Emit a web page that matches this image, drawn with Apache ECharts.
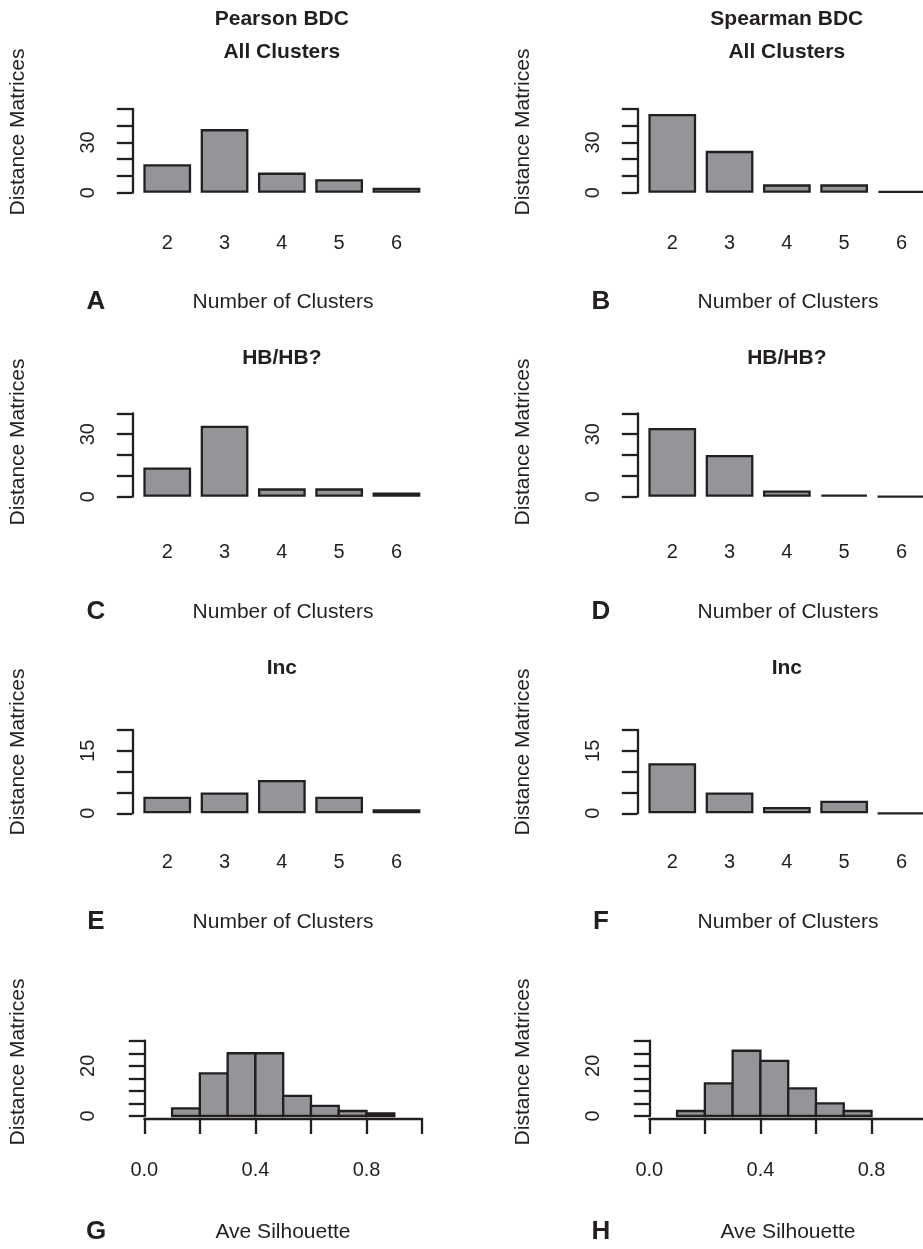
<!DOCTYPE html>
<html>
<head>
<meta charset="utf-8">
<script src="https://cdn.jsdelivr.net/npm/echarts@6/dist/echarts.min.js"></script>
<style>
html,body{margin:0;padding:0;background:#fff;}
#chart{width:923px;height:1249px;}
</style>
</head>
<body>
<div id="chart"></div>
<script>
// ---------------- data ----------------
const clusterCats = ['2', '3', '4', '5', '6'];
const pearsonAll = [17, 38, 12, 8, 3];
const spearmanAll = [47, 25, 5, 5, 1];
const pearsonHB = [14, 34, 4, 4, 2];
const spearmanHB = [33, 20, 3, 1, 0];
const pearsonInc = [4, 5, 8, 4, 1];
const spearmanInc = [12, 5, 1.5, 3, 0];
const silEdgesPearson = [0.1, 0.2, 0.3, 0.4, 0.5, 0.6, 0.7, 0.8, 0.9];
const silCountsPearson = [3, 17, 25, 25, 8, 4, 2, 1];
const silEdgesSpearman = [0.1, 0.2, 0.3, 0.4, 0.5, 0.6, 0.7, 0.8];
const silCountsSpearman = [2, 13, 26, 22, 11, 5, 2];
const panelTitles = [['Pearson BDC\nAll Clusters', 'Spearman BDC\nAll Clusters'], ['HB/HB?', 'HB/HB?'], ['Inc', 'Inc'], ['', '']];
const panelLetters = [['A', 'B'], ['C', 'D'], ['E', 'F'], ['G', 'H']];
const yTickLabels = [[0, 30], [0, 30], [0, 15], [0, 20]];
const silTickLabels = [0, 0.4, 0.8];

// ---------------- styling / layout ----------------
const FONT = 'Liberation Sans, Arial, Helvetica, sans-serif';
const INK = '#231f20';
const FILL = '#939598';
const LW = 2.3;
const COL_DX = [0, 505];
const rows = [
  {top: 109, bottom: 192.7, max: 50, interval: 10, tickY: 243, titleY: [19, 52], nameY: 132, letterY: 302},
  {top: 413.3, bottom: 496.7, max: 40, interval: 10, tickY: 552, titleY: [358], nameY: 442, letterY: 612},
  {top: 730, bottom: 813.3, max: 20, interval: 5, tickY: 862, titleY: [668], nameY: 752, letterY: 922},
  {top: 1040.7, bottom: 1116, max: 30, interval: 5, tickY: 1170, titleY: [], nameY: 1062, letterY: 1232}
];
const barSeriesData = [[pearsonAll, spearmanAll], [pearsonHB, spearmanHB], [pearsonInc, spearmanInc]];

const grids = [], xAxes = [], yAxes = [], series = [], graphics = [];

function yAxisFor(r, shown, offset) {
  return {
    type: 'value', gridIndex: grids.length - 1, min: 0, max: r.max, interval: r.interval,
    offset: offset,
    axisLine: {show: true, lineStyle: {color: INK, width: LW}},
    axisTick: {show: true, length: 15.5, lineStyle: {color: INK, width: LW}},
    splitLine: {show: false},
    axisLabel: {
      rotate: 90, margin: 44, verticalAlign: 'middle', align: 'center',
      color: INK, fontSize: 20, fontFamily: FONT,
      formatter: v => shown.indexOf(v) >= 0 ? String(v) : ''
    }
  };
}

for (let ri = 0; ri < 4; ri++) {
  const r = rows[ri];
  for (let ci = 0; ci < 2; ci++) {
    const dx = COL_DX[ci];
    if (ri < 3) {
      grids.push({left: 138.6 + dx, top: r.top, width: 286.5, height: r.bottom - r.top, containLabel: false, outerBoundsMode: 'none'});
      const gi = grids.length - 1;
      xAxes.push({
        type: 'category', gridIndex: gi, data: clusterCats, boundaryGap: true,
        axisLine: {show: false}, axisTick: {show: false}, splitLine: {show: false},
        axisLabel: {margin: r.tickY - r.bottom, verticalAlign: 'middle', color: INK, fontSize: 20, fontFamily: FONT}
      });
      yAxes.push(yAxisFor(r, yTickLabels[ri], 6.3));
      series.push({
        type: 'bar', xAxisIndex: gi, yAxisIndex: gi, data: barSeriesData[ri][ci], barWidth: 47.75,
        itemStyle: {color: FILL, borderColor: INK, borderWidth: LW}, silent: true
      });
    } else {
      grids.push({left: 144.3 + dx, top: r.top, width: 277.8, height: r.bottom - r.top, containLabel: false, outerBoundsMode: 'none'});
      const gi = grids.length - 1;
      xAxes.push({
        type: 'value', gridIndex: gi, min: 0, max: 1, interval: 0.2, offset: 3,
        axisLine: {show: true, onZero: false, lineStyle: {color: INK, width: LW}},
        axisTick: {show: true, length: 15, lineStyle: {color: INK, width: LW}},
        splitLine: {show: false},
        axisLabel: {
          margin: r.tickY - r.bottom - 3, verticalAlign: 'middle', color: INK, fontSize: 20, fontFamily: FONT,
          formatter: v => silTickLabels.some(t => Math.abs(t - v) < 1e-6) ? v.toFixed(1) : ''
        }
      });
      yAxes.push(yAxisFor(r, yTickLabels[ri], 12));
      const edges = ci === 0 ? silEdgesPearson : silEdgesSpearman;
      const counts = ci === 0 ? silCountsPearson : silCountsSpearman;
      const hdata = counts.map((c, i) => [edges[i], edges[i + 1], c]);
      series.push({
        type: 'custom', xAxisIndex: gi, yAxisIndex: gi, data: hdata, silent: true,
        encode: {x: [0, 1], y: 2},
        renderItem: function (params, api) {
          const p0 = api.coord([api.value(0), api.value(2)]);
          const p1 = api.coord([api.value(1), 0]);
          return {
            type: 'rect',
            shape: {x: p0[0], y: p0[1], width: p1[0] - p0[0], height: p1[1] - p0[1]},
            style: {fill: FILL, stroke: INK, lineWidth: LW}
          };
        }
      });
    }
    const tl = panelTitles[ri][ci] ? panelTitles[ri][ci].split('\n') : [];
    tl.forEach((t, k) => graphics.push({
      type: 'text', x: 281.8 + dx, y: r.titleY[k],
      style: {text: t, font: 'bold 21px ' + FONT, fill: INK, align: 'center', verticalAlign: 'middle'}
    }));
    graphics.push({
      type: 'text', x: 18 + dx, y: r.nameY, rotation: Math.PI / 2,
      style: {text: 'Distance Matrices', font: '21px ' + FONT, fill: INK, align: 'center', verticalAlign: 'middle'}
    });
    graphics.push({
      type: 'text', x: 283 + dx, y: r.letterY,
      style: {text: ri < 3 ? 'Number of Clusters' : 'Ave Silhouette', font: '21px ' + FONT, fill: INK, align: 'center', verticalAlign: 'middle'}
    });
    graphics.push({
      type: 'text', x: 96 + dx, y: r.letterY,
      style: {text: panelLetters[ri][ci], font: 'bold 26px ' + FONT, fill: INK, align: 'center', verticalAlign: 'middle'}
    });
  }
}

const chart = echarts.init(document.getElementById('chart'), null, {renderer: 'canvas'});
chart.setOption({
  backgroundColor: '#ffffff',
  animation: false,
  grid: grids,
  xAxis: xAxes,
  yAxis: yAxes,
  series: series,
  graphic: {elements: graphics}
});
</script>
</body>
</html>
